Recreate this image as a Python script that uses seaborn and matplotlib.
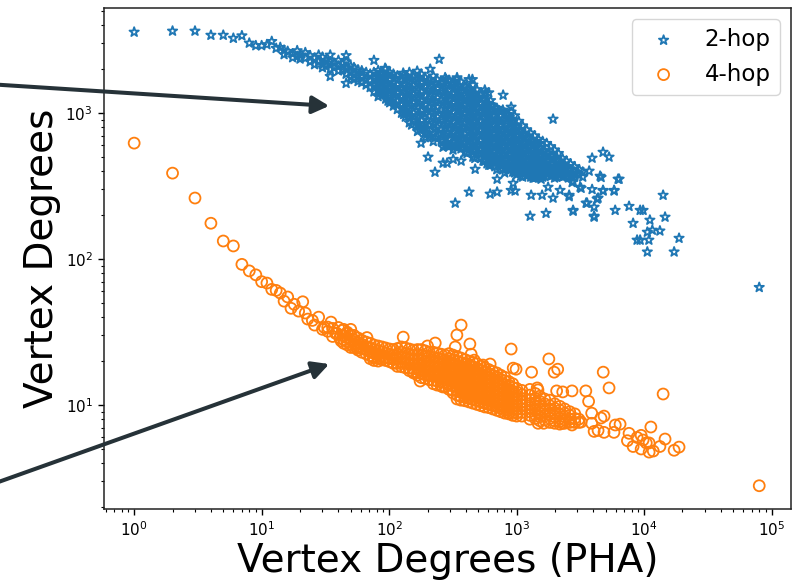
import numpy as np
import pandas as pd
import seaborn as sns
import matplotlib
matplotlib.use("Agg")
import matplotlib.pyplot as plt

# values
blue_head_x = [1, 2, 3, 4, 5, 6, 7, 8, 9, 10, 11, 12, 13, 14]
blue_head_y = [3590, 3650, 3650, 3420, 3420, 3260, 3390, 3020, 2900, 2900, 2950, 3100, 2780, 2820]

blue_core_x = [15, 16, 17.5, 19, 20, 22, 24, 26, 28, 30, 32, 34.5, 37, 40, 43, 46, 50, 53, 57, 61, 66, 71, 76, 82, 88, 94, 101, 108, 116, 125, 134, 144, 155, 167, 179, 192, 206, 222, 238, 256, 275, 295, 317, 341, 366, 393, 423, 454, 488, 524, 563, 605, 650, 699, 751, 807, 867, 932, 1001, 1076, 1156, 1242, 1335, 1434, 1541, 1656, 1780, 1912, 2055, 2208, 2373, 2550, 2740]
blue_core_y = [
    [2700, 2520], [2650], [2550, 2400], [2680, 2450], [2500, 2350], [2600, 2380], [2480, 2250], [2380, 2150],
    [2500, 2260], [2420, 2150, 2050], [2300, 2100], [2500, 2250, 1990, 1785], [2200, 2050], [2300, 2100, 1950],
    [2180, 1980], [2480, 2250, 2020, 1850, 1600], [2100, 1900, 1760], [2050, 1850, 1700], [1980, 1800, 1650],
    [1950, 1780, 1620], [1900, 1700, 1560], [1850, 1680, 1500], [2300, 1900, 1720, 1540, 1400],
    [1960, 1780, 1600, 1430, 1300], [1850, 1650, 1480, 1330], [2000, 1760, 1580, 1400, 1250],
    [1900, 1700, 1500, 1320, 1180], [1850, 1620, 1430, 1250, 1120], [1800, 1560, 1380, 1210, 1060],
    [1700, 1500, 1300, 1150, 1000], [1780, 1560, 1360, 1180, 1040, 940],
    [1900, 1650, 1440, 1260, 1080, 950, 860], [1780, 1540, 1340, 1170, 1000, 880],
    [1700, 1480, 1280, 1110, 960, 830, 750], [1850, 1620, 1400, 1210, 1040, 890, 780],
    [1750, 1520, 1320, 1140, 990, 850, 740, 680], [1680, 1450, 1250, 1090, 950, 820, 700],
    [1800, 1540, 1340, 1160, 1000, 860, 730, 640], [1700, 1470, 1270, 1100, 940, 800, 690],
    [1620, 1410, 1220, 1050, 900, 770, 650], [1750, 1500, 1300, 1130, 970, 830, 710, 600],
    [1680, 1440, 1240, 1070, 920, 790, 670, 590], [1580, 1360, 1180, 1020, 870, 740, 630, 560],
    [1750, 1480, 1290, 1110, 960, 820, 700, 600], [1640, 1400, 1210, 1050, 900, 770, 660, 570],
    [1520, 1320, 1140, 990, 850, 720, 620, 540], [1700, 1440, 1240, 1070, 930, 800, 680, 590],
    [1560, 1340, 1170, 1010, 870, 750, 640, 550, 500], [1450, 1260, 1090, 950, 820, 700, 600, 530],
    [1340, 1170, 1020, 880, 760, 650, 560, 490], [1440, 1230, 1080, 930, 810, 700, 600, 520, 470],
    [1380, 1150, 1000, 860, 750, 650, 560, 490, 440], [1120, 960, 830, 720, 620, 540, 470],
    [1080, 910, 790, 690, 600, 520, 460, 410], [1020, 870, 750, 650, 570, 500, 440],
    [1000, 830, 720, 630, 550, 480, 420, 390], [930, 790, 690, 600, 520, 460, 410],
    [870, 750, 650, 570, 500, 440, 395], [800, 700, 610, 540, 480, 420, 380], [760, 670, 580, 520, 460, 410, 370],
    [720, 630, 560, 490, 440, 395], [680, 590, 520, 470, 420, 380], [640, 560, 500, 450, 410, 375],
    [620, 540, 480, 430, 395, 365], [580, 510, 460, 415, 380], [550, 490, 440, 400, 370], [530, 470, 425, 385],
    [510, 450, 410, 375], [480, 430, 395, 365], [445, 410, 380], [430, 395, 370], [410, 385, 360], [390, 365],
]

# second pass over the dense part of the blue cloud
blue_fill_x = [85, 98, 112, 130, 150, 173, 199, 230, 265, 285, 305, 330, 355, 380, 408, 440, 470, 505, 545, 585, 625, 675, 725, 780, 840, 900, 965, 1040, 1115, 1200, 1290, 1385, 1490, 1600, 1720, 1850, 1985, 2130, 2290, 2460, 2645, 2850, 3100, 3300]
blue_fill_y = [
    [1870, 1690, 1520, 1370], [1830, 1600, 1440, 1290, 1210], [1740, 1500, 1330, 1160], [1820, 1590, 1410, 1240, 1090, 980],
    [1720, 1490, 1300, 1130, 960, 830], [1760, 1550, 1340, 1170, 1000, 850, 770], [1640, 1430, 1230, 1050, 900, 790, 720],
    [1600, 1400, 1200, 1040, 900, 780, 680], [1620, 1390, 1180, 1000, 880, 740, 640], [1540, 1340, 1150, 990, 850, 730, 620],
    [1580, 1310, 1130, 960, 830, 710, 610], [1490, 1270, 1090, 930, 790, 680, 590], [1520, 1290, 1100, 950, 810, 690, 590],
    [1430, 1230, 1070, 920, 790, 670, 580], [1470, 1280, 1090, 950, 820, 690, 600, 530], [1380, 1190, 1040, 900, 770, 660, 570],
    [1370, 1180, 1020, 870, 750, 640, 560, 490], [1290, 1100, 960, 830, 710, 610, 530], [1260, 1110, 980, 840, 730, 620, 540, 470],
    [1170, 1030, 890, 780, 670, 580, 510, 450], [1220, 1050, 900, 780, 680, 590, 510, 440], [1090, 950, 820, 720, 620, 550, 480, 430],
    [1040, 890, 770, 680, 590, 520, 460], [1050, 900, 770, 670, 590, 520, 460, 410], [980, 840, 730, 640, 560, 490, 430],
    [900, 780, 680, 590, 520, 460, 410], [960, 830, 720, 630, 550, 480, 430, 390], [880, 760, 650, 570, 500, 440, 390],
    [820, 710, 620, 540, 480, 430, 390, 365], [770, 680, 600, 530, 470, 420, 370], [730, 640, 560, 490, 440, 400, 365],
    [700, 610, 540, 480, 430, 390, 360], [660, 580, 510, 450, 410, 375], [640, 550, 490, 430, 390, 365],
    [620, 530, 470, 420, 385], [590, 510, 450, 400, 370], [560, 490, 430, 385, 360], [530, 470, 420, 380],
    [490, 440, 395, 365], [470, 420, 385], [450, 410, 375], [430, 395, 365], [410, 375], [395, 365],
]

blue_tail_x = [247, 784, 906, 906, 1932, 178, 202, 229, 424, 330, 473, 620, 703, 1277, 1702, 2773, 4055, 5930, 3570, 4055, 4355, 5820, 4765, 3910, 2582, 1932, 1585, 1300, 973, 906, 940, 1346, 1556, 1766, 2193, 2773, 3148, 3707, 4520, 4765, 3910, 5310, 6250, 3035, 703, 265, 367, 318, 265, 285, 556, 4600, 6370, 4765, 5820, 3205, 2725, 2582, 4280, 3510, 2773, 4055, 7620, 9310, 9820, 14100, 14600, 11100, 8200, 13300, 11600, 10600, 8810, 9310, 10900, 18800, 10600, 17200, 80000, 93, 129, 166, 210, 280, 340, 450, 570]
blue_tail_y = [2340, 1328, 1100, 1018, 910, 623, 500, 394, 288, 242, 413, 279, 288, 197, 206, 216, 197, 216, 242, 227, 262, 296, 296, 300, 274, 262, 274, 274, 293, 296, 331, 359, 353, 311, 296, 342, 311, 401, 370, 540, 492, 500, 353, 388, 353, 585, 470, 483, 455, 455, 470, 363, 353, 293, 293, 306, 335, 268, 258, 242, 213, 194, 230, 216, 216, 274, 194, 185, 176, 156, 158, 153, 135, 135, 135, 139, 112, 112, 64, 2030, 1880, 1940, 2000, 1700, 1700, 1700, 1371]

orange_head_x = [1, 2, 3, 4, 5, 6, 7, 8, 9, 10, 11, 12, 13, 14, 15, 16, 17, 18, 19.5, 21, 22, 23, 25, 26, 28, 30, 31, 33, 33, 35, 36, 36, 38, 39, 40, 41, 42, 42, 43, 47, 56, 67, 75]
orange_head_y = [623, 388, 262, 176, 133, 123, 92, 83, 78, 70, 68.5, 62, 61, 58.5, 51.5, 55, 46, 49, 44, 51, 42.7, 38.8, 38, 35.3, 40, 33, 34, 34.2, 32, 37, 33.5, 29.5, 31, 31, 34, 28.8, 30, 27.5, 32.5, 31, 24.5, 29, 21.3]

orange_core_x = [44, 47, 50, 53, 57, 61, 66, 71, 76, 82, 88, 94, 101, 108, 116, 125, 134, 144, 155, 167, 179, 192, 206, 222, 238, 256, 275, 295, 317, 341, 366, 393, 423, 454, 488, 524, 563, 605, 650, 699, 751, 807, 867, 932, 1001, 1100, 1270, 1400, 1520, 1660, 1820, 1990, 2180, 2380, 2610, 2860, 3080]
orange_core_y = [
    [33, 30, 28, 26.5], [31.5, 29, 27.2, 25.8], [33, 30, 27.8, 26, 24.8], [30, 28, 26.3, 24.8], [28.8, 26.8, 25.2, 23.8],
    [27.8, 26, 24.4, 23], [27, 25.2, 23.8, 22.4], [26.5, 24.6, 23.2, 21.8, 20.8], [25.8, 24, 22.6, 21.2, 20.2],
    [25.4, 23.6, 22.1, 20.8, 20], [25, 23.2, 21.6, 20.4], [24.6, 22.7, 21.2, 20.2], [24.2, 22.3, 20.8, 19.8],
    [24, 22, 20.6, 19.3], [24.4, 22.4, 20.8, 19.3, 18.4], [25, 23, 21.2, 19.6, 18.3], [24.6, 22.6, 20.9, 19.4, 18],
    [24.2, 22.3, 20.7, 19.2, 17.9, 17.2], [23.8, 22, 20.5, 19, 17.7, 16.6], [24, 22.2, 20.6, 19.2, 17.9, 16.7, 16],
    [24, 22, 20.2, 18.8, 17.5, 16.4, 15.4], [23.5, 21.7, 20, 18.6, 17.3, 16.1, 15.2], [23, 21.4, 19.9, 18.5, 17.1, 15.9, 14.9],
    [23, 21.2, 19.6, 18.2, 17, 15.9, 14.8, 14], [22.7, 21, 19.5, 18.1, 16.9, 15.7, 14.6, 13.7],
    [22.3, 20.7, 19.2, 17.8, 16.6, 15.4, 14.4, 13.5], [22, 20.4, 18.9, 17.6, 16.4, 15.3, 14.3, 13.3],
    [22.5, 20.8, 19.3, 18, 16.8, 15.7, 14.7, 13.7, 12.8], [22, 20.4, 19, 17.7, 16.5, 15.4, 14.4, 13.5, 12.6, 12.1],
    [21.5, 20, 18.6, 17.3, 16.2, 15.2, 14.2, 13.3, 12.5, 11.7, 11], [21, 19.5, 18.2, 17, 15.9, 14.9, 13.9, 13, 12.2, 11.4, 10.8],
    [20.5, 19, 17.8, 16.6, 15.5, 14.5, 13.6, 12.8, 12, 11.3, 10.7], [20, 18.6, 17.4, 16.3, 15.3, 14.3, 13.4, 12.6, 11.8, 11.1, 10.5],
    [19.6, 18.3, 17.1, 16, 15, 14.1, 13.2, 12.4, 11.6, 10.9, 10.3], [19.2, 17.9, 16.7, 15.7, 14.7, 13.8, 12.9, 12.1, 11.4, 10.7, 10.1],
    [18.5, 17.3, 16.2, 15.2, 14.3, 13.4, 12.6, 11.8, 11.1, 10.5, 9.9], [18, 16.9, 15.9, 14.9, 14, 13.1, 12.3, 11.6, 10.9, 10.3, 9.7],
    [17.5, 16.4, 15.4, 14.5, 13.6, 12.8, 12, 11.3, 10.7, 10.1, 9.6], [17, 16, 15, 14.1, 13.3, 12.5, 11.8, 11.1, 10.5, 9.9, 9.4],
    [16.6, 15.6, 14.7, 13.8, 13, 12.2, 11.5, 10.9, 10.3, 9.7, 9.2], [16, 15, 14.2, 13.4, 12.6, 11.9, 11.2, 10.6, 10, 9.5, 9],
    [15.5, 14.6, 13.8, 13, 12.2, 11.5, 10.9, 10.3, 9.7, 9.2, 8.8], [14.5, 13.7, 12.9, 12.2, 11.5, 10.9, 10.3, 9.7, 9.2, 8.7],
    [14, 13.2, 12.4, 11.7, 11.1, 10.5, 9.9, 9.4, 8.9, 8.5], [13, 12.3, 11.6, 11, 10.4, 9.9, 9.3, 8.8, 8.4],
    [12.6, 11.8, 11.1, 10.5, 10, 9.4, 8.9, 8.4], [12.8, 11.7, 10.9, 10.2, 9.6, 9, 8.5, 8], [12, 11.1, 10.4, 9.8, 9.2, 8.6, 8.1],
    [11.5, 10.6, 9.9, 9.3, 8.8, 8.3, 7.8], [11, 10.2, 9.5, 9, 8.4, 7.9], [10.8, 9.9, 9.2, 8.6, 8.1, 7.6], [10.2, 9.5, 8.9, 8.3, 7.8, 7.5],
    [9.8, 9.2, 8.6, 8.1, 7.7, 7.4], [9.4, 8.8, 8.3, 7.9, 7.5], [9, 8.5, 8, 7.6], [8.7, 8.1, 7.6], [8, 7.6],
]

orange_tail_x = [367, 340, 129, 230, 430, 330, 440, 906, 200, 465, 1310, 940, 990, 545, 620, 395, 875, 264, 175, 155, 1450, 1475, 1790, 2100, 1970, 4780, 5310, 14100, 3490, 2720, 2060, 2300, 1470, 3670, 3880, 3880, 4850, 4590, 5800, 5940, 6480, 4850, 4355, 4055, 7620, 7400, 11300, 9480, 8810, 9820, 10400, 10950, 8200, 9480, 10950, 11800, 13300, 14600, 17200, 18800, 80000, 3205, 2720, 2300, 1630]
orange_tail_y = [35.3, 30.2, 29.2, 26.6, 26.2, 25, 22.3, 24.2, 25.4, 20.3, 16.8, 17.9, 17.6, 18.8, 19.1, 11.4, 8.8, 13.3, 14.6, 16.8, 13.1, 7.5, 20.7, 17.6, 16.8, 16.8, 13.1, 11.9, 12.5, 12.5, 12.5, 12.3, 12.7, 10.6, 8.8, 7.5, 8.4, 8.15, 6.5, 7.3, 7.4, 6.5, 6.7, 6.6, 6.4, 5.7, 7.07, 6.2, 6, 5.76, 5.5, 5.5, 5.2, 5, 4.76, 4.84, 5.2, 5.85, 4.9, 5.15, 2.8, 7.65, 7.3, 7.5, 7.5]

ARROW_COLOR = "#263238"


def build_frame(single_x, single_y, *columns):
    xs = list(single_x)
    ys = list(single_y)
    for col_x, col_y in columns:
        for x, col in zip(col_x, col_y):
            xs += [x] * len(col)
            ys += col
    return pd.DataFrame({"pha": np.array(xs, dtype=float), "deg": np.array(ys, dtype=float)})


sns.set_theme(style="ticks", rc={
    "axes.edgecolor": "#222222",
    "axes.linewidth": 1.1,
    "text.color": "black",
    "axes.labelcolor": "black",
    "xtick.color": "black",
    "ytick.color": "black",
    "font.family": ["DejaVu Sans"],
})

fig = plt.figure(figsize=(7.96, 5.82), dpi=100)
ax = fig.add_axes([104 / 796, 1 - 509 / 582, 687 / 796, 501 / 582])

two_hop = build_frame(blue_head_x + blue_tail_x, blue_head_y + blue_tail_y,
                      (blue_core_x, blue_core_y), (blue_fill_x, blue_fill_y))
four_hop = build_frame(orange_head_x + orange_tail_x, orange_head_y + orange_tail_y,
                       (orange_core_x, orange_core_y))

sns.scatterplot(data=two_hop, x="pha", y="deg", marker="*", s=50, facecolors="none",
                edgecolor="#1f77b4", linewidth=1.3, label="2-hop", ax=ax)
sns.scatterplot(data=four_hop, x="pha", y="deg", marker="o", s=62, facecolors="none",
                edgecolor="#ff7f0e", linewidth=1.3, label="4-hop", ax=ax)

ax.set_xscale("log")
ax.set_yscale("log")
ax.set_xlim(0.58, 142000)
ax.set_ylim(1.94, 5250)
ax.tick_params(axis="both", which="major", labelsize=11, length=4.5, width=1)
ax.tick_params(axis="both", which="minor", length=2.5, width=0.8)

ax.set_xlabel("Vertex Degrees (PHA)", fontsize=28, labelpad=2)
ax.set_ylabel("Vertex Degrees", fontsize=28, labelpad=3)

ax.legend(loc="upper right", fontsize=16.5, borderaxespad=0.48, scatterpoints=1)

# callout arrows run in from beyond the left edge of the figure
for start, end in [((-0.02, 0.856), (0.4135, 0.818)), ((-0.02, 0.163), (0.4135, 0.3745))]:
    ax.annotate("", xy=end, xytext=start, xycoords="figure fraction", textcoords="figure fraction",
                annotation_clip=False,
                arrowprops=dict(arrowstyle="-|>,head_length=0.42,head_width=0.22", color=ARROW_COLOR,
                                lw=2.9, shrinkA=0, shrinkB=0, mutation_scale=24))

fig.savefig("out.png", dpi=100)
